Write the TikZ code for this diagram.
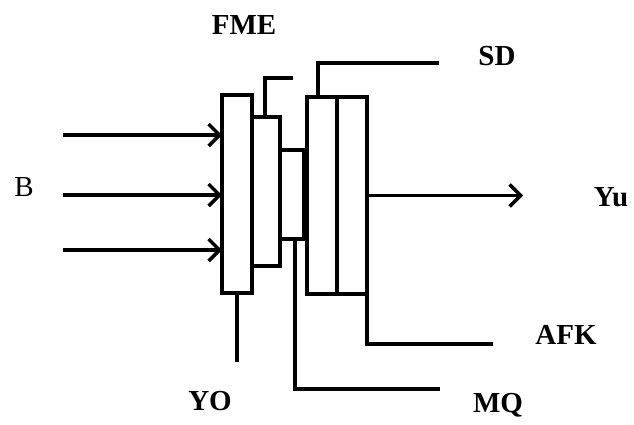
\documentclass[tikz,border=0pt]{standalone}
\usepackage{fontspec}
\setmainfont{Liberation Serif}
\usetikzlibrary{positioning,arrows.meta}

\begin{document}
\begin{tikzpicture}[
    x=1pt, y=-1pt,
    line width=3.5pt,
    font=\fontsize{29}{33}\selectfont\bfseries,
    blk/.style={draw, line width=3.5pt, fill=white, inner sep=0pt, outer sep=0pt,
                minimum width=30pt},
    lbl/.style={inner sep=0pt, anchor=center},
    arrow/.style={-{Straight Barb[length=11pt, width=22pt, line width=3.5pt]}},
  ]
    \useasboundingbox (0,0) rectangle (634,424);

    \node[blk, minimum height=198pt] (yo) at (237,194) {};
    \node[blk, minimum width=28pt, minimum height=149pt] (fme) at (266,191.5) {};
    \node[blk, minimum width=24pt, minimum height=89pt] (mq) at (292,194.5) {};
    \node[blk, minimum height=197pt] (sd) at (322,195.5) {};
    \node[blk, minimum height=197pt, right=0pt of sd] (afk) {};

    \coordinate (fmeEnd) at (293,78);
    \coordinate (sdEnd)  at (439,63);
    \coordinate (mqEnd)  at (440,389);
    \coordinate (afkEnd) at (493,344);
    \coordinate (yoEnd)  at (237,362);
    \coordinate (yuEnd)  at (523,195.5);

    \draw ([xshift=-1pt]fme.north) |- (fmeEnd);
    \draw ([xshift=-4pt]sd.north) |- (sdEnd);
    \draw ([xshift=3pt]mq.south) |- (mqEnd);
    \draw (afk.south east) |- (afkEnd);
    \draw (yo.south) -- (yoEnd);
    \draw[arrow] (afk.east) -- (yuEnd);
    \foreach \y [count=\i] in {135,195,250} {
      \coordinate (in\i) at (63,\y);
      \draw[arrow] (in\i) -- (in\i -| yo.west);
    }

    \node[lbl, font=\fontsize{29}{33}\selectfont\mdseries] (lblB) at (24,187) {B};
    \node[lbl] (lblFME) at (244,25) {FME};
    \node[lbl] (lblSD)  at (497,56) {SD};
    \node[lbl] (lblYu)  at (611,197) {Yu};
    \node[lbl] (lblAFK) at (566,335) {AFK};
    \node[lbl] (lblYO)  at (210,401) {YO};
    \node[lbl] (lblMQ)  at (498,405) {MQ};
  \end{tikzpicture}
\end{document}
